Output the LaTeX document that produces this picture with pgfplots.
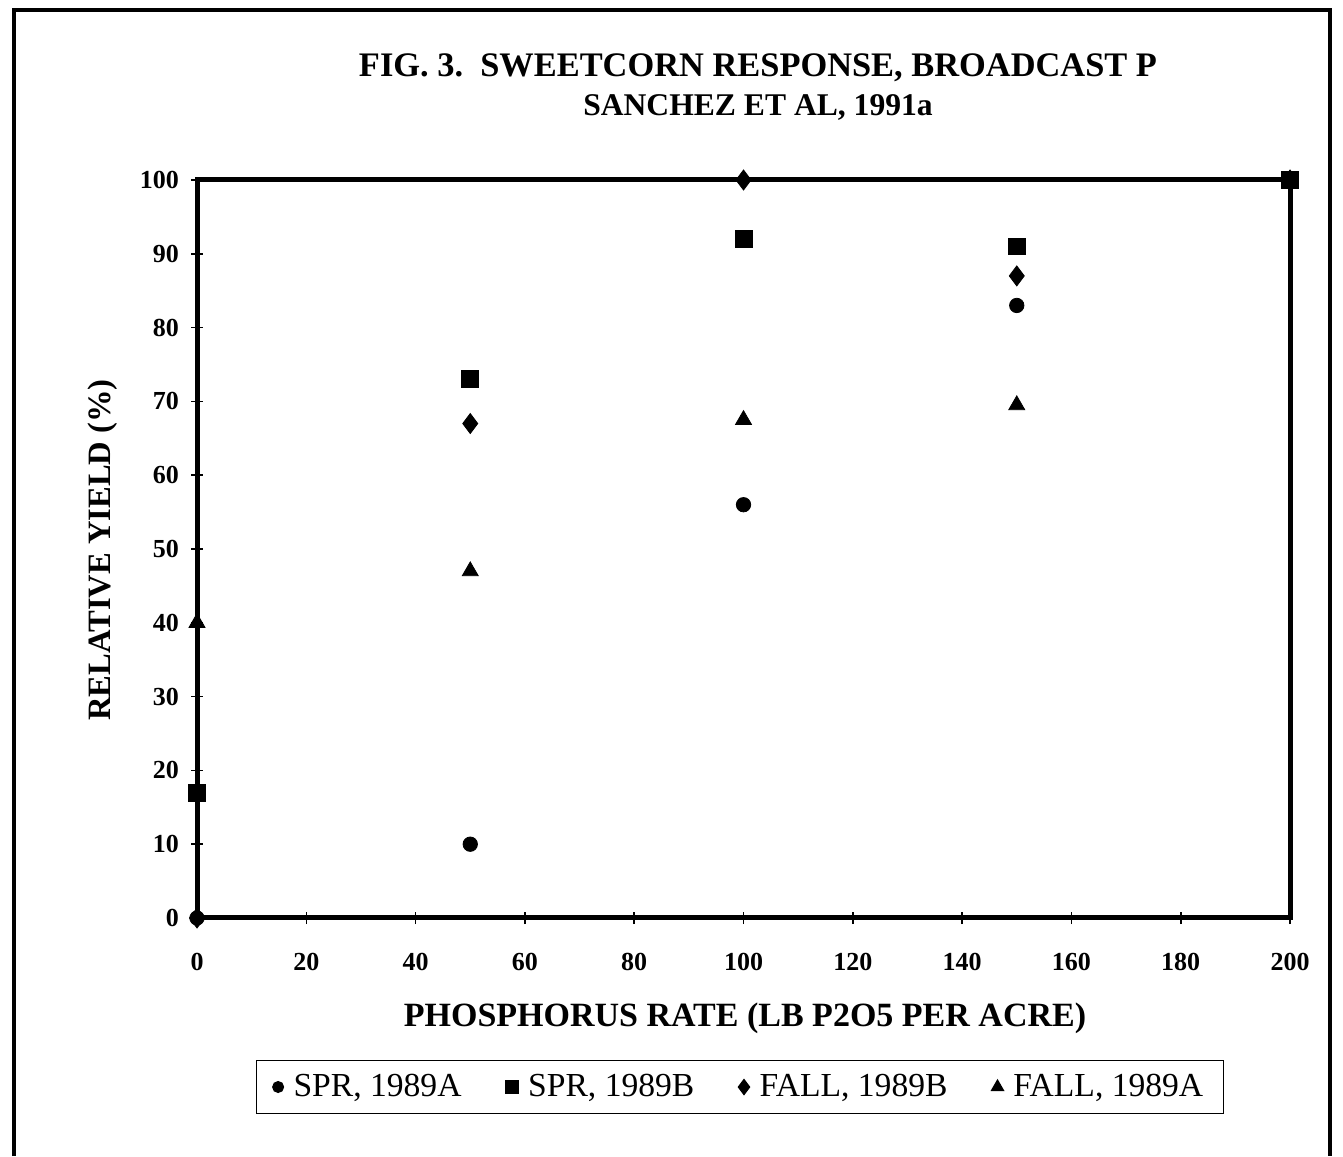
\documentclass[border=0pt]{standalone}
\usepackage{fontspec}
\setmainfont{Liberation Serif}
\usepackage{pgfplots}
\pgfplotsset{compat=1.18}
\begin{document}
\begin{tikzpicture}
\useasboundingbox (0pt,0pt) rectangle (671.5pt,578pt);
\draw[line width=2pt] (7pt,0pt) -- (7pt,573pt) -- (665pt,573pt) -- (665pt,0pt);
\node[font=\bfseries\fontsize{17.2}{20}\selectfont] at (379pt,544pt) {FIG. 3.\ \ SWEETCORN RESPONSE, BROADCAST P};
\node[font=\bfseries\fontsize{15.8}{18}\selectfont] at (379pt,524.5pt) {SANCHEZ ET AL, 1991a};
\node[font=\bfseries\fontsize{16.3}{19}\selectfont, rotate=90] at (51.5pt,303pt) {RELATIVE YIELD (\%)};
\node[font=\bfseries\fontsize{17}{20}\selectfont] at (372.5pt,69pt) {PHOSPHORUS RATE (LB P2O5 PER ACRE)};
\begin{axis}[
  at={(98.5pt,119pt)}, anchor=south west,
  scale only axis, width=546.5pt, height=369pt,
  xmin=0, xmax=200, ymin=0, ymax=100,
  xtick={0,20,...,200}, ytick={0,10,...,100},
  axis line style={line width=2.5pt},
  tick style={black, line width=0.8pt},
  tick align=center, major tick length=6pt,
  xtick pos=bottom, ytick pos=left,
  /pgf/number format/assume math mode=true,
  ticklabel style={font=\bfseries\fontsize{13}{15}\selectfont},
  xticklabel style={yshift=-11pt},
  yticklabel style={xshift=-2.5pt},
  clip=false,
  legend columns=4,
  legend style={at={(0.4968,-0.229)}, anchor=center, draw=black, line width=0.6pt,
    font=\fontsize{16.8}{19}\selectfont, inner xsep=8pt, inner ysep=5pt,
    /tikz/every even column/.append style={column sep=20pt},
    /tikz/every odd column/.append style={column sep=3pt}},
  legend image post style={scale=0.75},
]
\addplot[only marks, mark=*, mark size=3.6pt, black] coordinates {(0,0) (50,10) (100,56) (150,83) (200,100)};
\addlegendentry{SPR, 1989A}
\addplot[only marks, mark=square*, mark size=4.2pt, black] coordinates {(0,17) (50,73) (100,92) (150,91) (200,100)};
\addlegendentry{SPR, 1989B}
\addplot[only marks, mark=diamond*, mark size=5pt, black] coordinates {(0,0) (50,67) (100,100) (150,87) (200,100)};
\addlegendentry{FALL, 1989B}
\addplot[only marks, mark=triangle*, mark size=4.6pt, black] coordinates {(0,40) (50,47) (100,67.5) (150,69.5) (200,100)};
\addlegendentry{FALL, 1989A}
\end{axis}
\end{tikzpicture}
\end{document}
